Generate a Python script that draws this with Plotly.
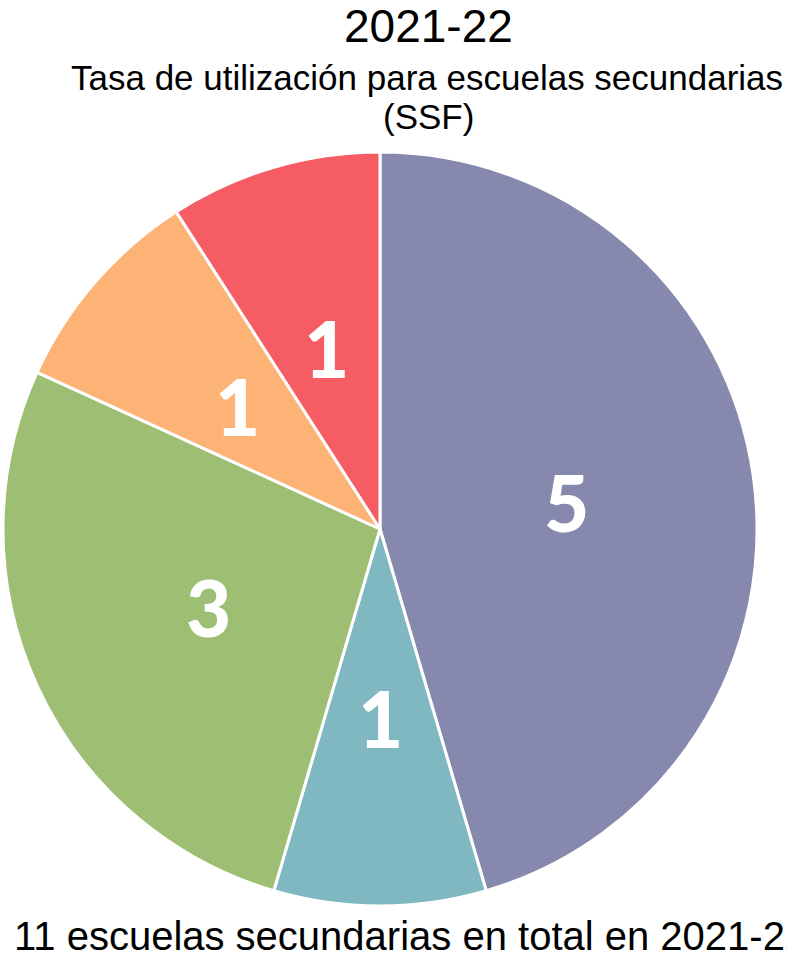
import math
import plotly.graph_objects as go

# School counts per utilization group, clockwise from 12 o'clock
categories = ["Grupo A", "Grupo B", "Grupo C", "Grupo D", "Grupo E"]
counts = [5, 1, 3, 1, 1]
colors = ["#8689AD", "#7FB8C1", "#9EBE73", "#FDB376", "#F65C63"]

title_text = "2021-22"
subtitle_lines = ["Tasa de utilización para escuelas secundarias", "(SSF)"]
footer_text = "11 escuelas secundarias en total en 2021-22"

W, H = 787, 954
cx_px, cy_px, r_px = 380, 529, 377

fig = go.Figure(go.Pie(
    labels=categories,
    values=counts,
    sort=False,
    direction="clockwise",
    rotation=0,
    marker=dict(colors=colors, line=dict(color="white", width=3)),
    textinfo="none",
    hoverinfo="label+value",
    showlegend=False,
    domain=dict(x=[(cx_px - r_px) / W, (cx_px + r_px) / W],
                y=[1 - (cy_px + r_px) / H, 1 - (cy_px - r_px) / H]),
))


def text_at(x_px, y_px, text, size, family, xanchor="center"):
    return dict(x=x_px / W, y=1 - y_px / H, xref="paper", yref="paper",
                xanchor=xanchor, yanchor="middle", showarrow=False,
                text=text, font=dict(family=family, size=size, color="black"))


# Value labels at half radius along each slice's middle angle
total = sum(counts)
acc = 0
annotations = []
for v in counts:
    mid = (acc + v / 2) / total * 2 * math.pi
    acc += v
    rr = 0.5 * r_px
    a = text_at(cx_px + rr * math.sin(mid), cy_px - rr * math.cos(mid),
                str(v), 78, "Lato")
    a["font"].update(color="white", weight=900)
    annotations.append(a)

annotations += [
    text_at(428, 26, title_text, 46, "Liberation Sans"),
    text_at(427, 77, subtitle_lines[0], 35, "Liberation Sans"),
    text_at(428, 116, subtitle_lines[1], 35, "Liberation Sans"),
    text_at(12, 936, footer_text, 40, "Liberation Sans", xanchor="left"),
]

fig.update_layout(
    width=W, height=H,
    margin=dict(l=0, r=0, t=0, b=0),
    paper_bgcolor="white",
    plot_bgcolor="white",
    annotations=annotations,
)

fig.write_html("out.html")
